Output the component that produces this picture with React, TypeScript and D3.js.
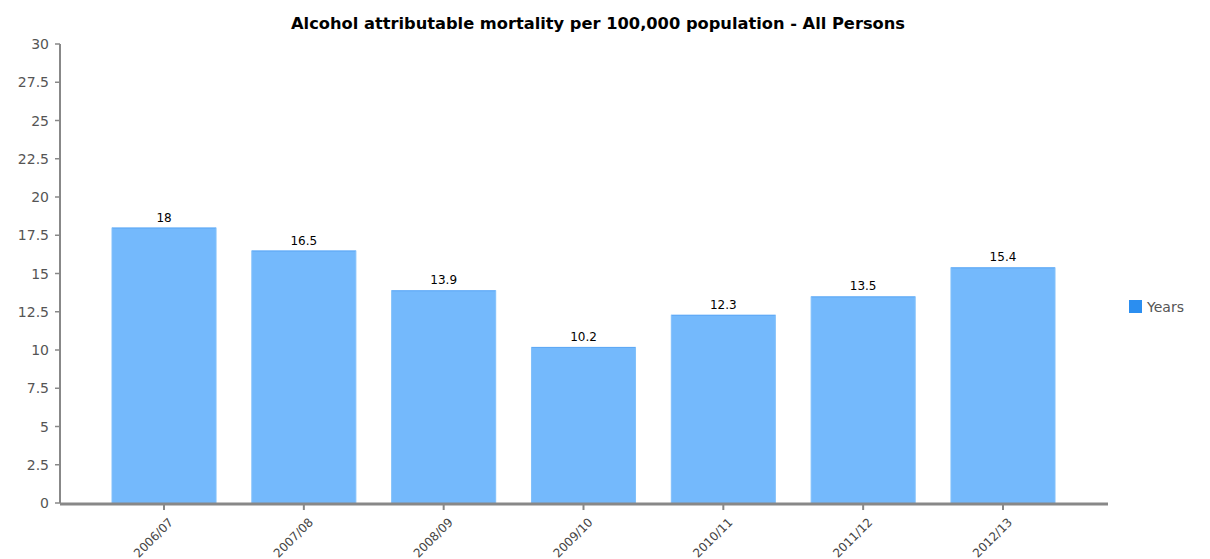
import React from "react";
import * as d3 from "d3";

const categories = ["2006/07", "2007/08", "2008/09", "2009/10", "2010/11", "2011/12", "2012/13"];
const values = [18, 16.5, 13.9, 10.2, 12.3, 13.5, 15.4];
const yTicks = [0, 2.5, 5, 7.5, 10, 12.5, 15, 17.5, 20, 22.5, 25, 27.5, 30];
const title = "Alcohol attributable mortality per 100,000 population - All Persons";
const seriesName = "Years";

export default function App() {
  const W = 1210, H = 559;
  const left = 60, right = 1108, top = 44, bottom = 503;
  const x = d3.scaleBand<string>().domain(categories).range([112, 1055]).paddingInner(0.256).paddingOuter(0);
  const y = d3.scaleLinear().domain([0, 30]).range([bottom, top]);
  const fmt = (v: number) => String(v);
  const font = "Verdana, 'DejaVu Sans', sans-serif";
  return (
    <svg width={W} height={H} style={{ position: "absolute", left: 0, top: 0, background: "#fff" }}>
      <text x={598} y={29} textAnchor="middle" fontFamily={font} fontWeight="bold" fontSize={15} fill="#000" textLength={614} lengthAdjust="spacingAndGlyphs">{title}</text>
      {categories.map((c, i) => {
        const bx = x(c)!;
        const bw = x.bandwidth();
        const by = y(values[i]);
        return (
          <g key={c}>
            <rect x={bx} y={by} width={bw} height={bottom - by} fill="#74b9fc" />
            <line x1={bx} x2={bx + bw} y1={by + 0.5} y2={by + 0.5} stroke="#5ea8f5" />
            <line x1={bx} x2={bx} y1={by} y2={bottom} stroke="#82c0fa" />
            <line x1={bx + bw} x2={bx + bw} y1={by} y2={bottom} stroke="#82c0fa" />
            <text x={bx + bw / 2} y={by - 6} textAnchor="middle" fontFamily={font} fontSize={12} fill="#000">{fmt(values[i])}</text>
          </g>
        );
      })}
      <line x1={left} x2={left} y1={top} y2={bottom} stroke="#888" strokeWidth={2} />
      {yTicks.map(t => (
        <g key={t}>
          <line x1={left - 5} x2={left} y1={y(t)} y2={y(t)} stroke="#888" strokeWidth={1.5} />
          <text x={49} y={y(t) + 5} textAnchor="end" fontFamily={font} fontSize={14} fill="#555">{fmt(t)}</text>
        </g>
      ))}
      <line x1={left} x2={right} y1={bottom + 1} y2={bottom + 1} stroke="#888" strokeWidth={3} />
      {categories.map(c => {
        const cx = x(c)! + x.bandwidth() / 2;
        return (
          <g key={"t" + c}>
            <line x1={cx} x2={cx} y1={bottom + 2} y2={bottom + 7} stroke="#888" strokeWidth={2} />
            <text transform={`translate(${cx + 10},${bottom + 20}) rotate(-45)`} textAnchor="end" fontFamily={font} fontSize={12} fill="#444">{c}</text>
          </g>
        );
      })}
      <rect x={1129} y={300} width={13} height={13} fill="#2b8ef0" />
      <text x={1147} y={312} fontFamily={font} fontSize={14} fill="#555">{seriesName}</text>
    </svg>
  );
}
